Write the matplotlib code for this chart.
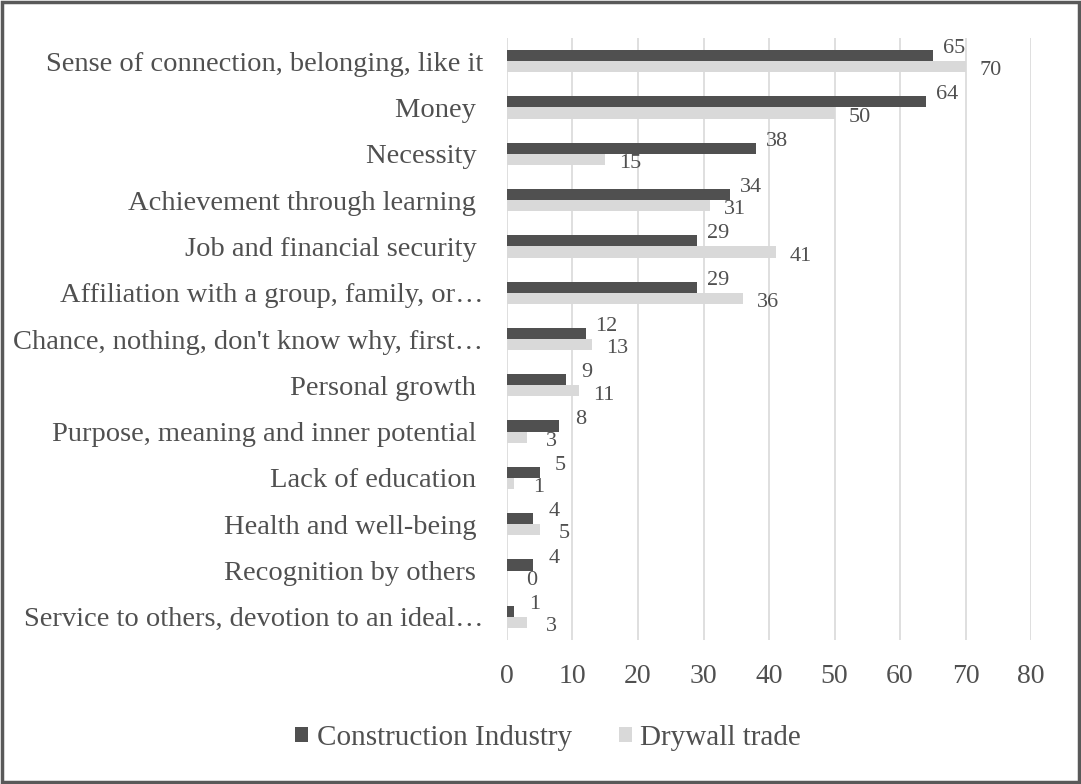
import matplotlib.pyplot as plt
import numpy as np
from matplotlib.patches import Rectangle

categories = [
    "Sense of connection, belonging, like it",
    "Money ",
    "Necessity ",
    "Achievement through learning ",
    "Job and financial security ",
    "Affiliation with a group, family, or…",
    "Chance, nothing, don't know why, first…",
    "Personal growth ",
    "Purpose, meaning and inner potential ",
    "Lack of education ",
    "Health and well-being ",
    "Recognition by others ",
    "Service to others, devotion to an ideal…",
]
construction = [65, 64, 38, 34, 29, 29, 12, 9, 8, 5, 4, 4, 1]
drywall = [70, 50, 15, 31, 41, 36, 13, 11, 3, 1, 5, 0, 3]
series_names = ["Construction Industry", "Drywall trade"]
xticks = [0, 10, 20, 30, 40, 50, 60, 70, 80]

text_col = "#505050"
dark_col = "#505050"
light_col = "#d9d9d9"

plt.rcParams['font.family'] = ['Liberation Serif', 'DejaVu Serif']

fig = plt.figure(figsize=(10.81, 7.84), dpi=100)
ax = fig.add_axes([0.469, 0.1837, 0.4848, 0.7678])

y = np.arange(len(categories))
h = 0.24
ax.barh(y - h / 2, construction, height=h, color=dark_col, label=series_names[0], zorder=3)
ax.barh(y + h / 2, drywall, height=h, color=light_col, label=series_names[1], zorder=3)

# value labels, offset like the spreadsheet export
for yi, v in zip(y, construction):
    ax.annotate(str(v), (v, yi - h / 2), xytext=(15, 5), textcoords='offset points',
                ha='center', va='center', fontsize=16, color=text_col)
for yi, v in zip(y, drywall):
    ax.annotate(str(v), (v, yi + h / 2), xytext=(18, -3), textcoords='offset points',
                ha='center', va='center', fontsize=16, color=text_col)

ax.set_xlim(0, 80)
ax.set_ylim(len(categories) - 0.5, -0.5)
ax.set_xticks(xticks)
ax.set_yticks(y)
ax.set_yticklabels(categories)
ax.tick_params(axis='y', length=0, pad=17, labelsize=20.5, labelcolor=text_col)
ax.tick_params(axis='x', length=0, pad=17, labelsize=20, labelcolor=text_col)
ax.grid(axis='x', color=light_col, linewidth=1.2, zorder=0)
for s in ax.spines.values():
    s.set_visible(False)

fig.legend(loc='center', bbox_to_anchor=(0.507, 0.0587), ncol=2, frameon=False,
           fontsize=21, labelcolor=text_col, handlelength=0.45, handleheight=0.45,
           handletextpad=0.3, columnspacing=1.6)

# outer frame
fig.patches.append(Rectangle((0.0015, 0.002), 0.997, 0.996, transform=fig.transFigure,
                             fill=False, edgecolor="#595959", linewidth=2.5))

fig.savefig("out.png", dpi=100)
